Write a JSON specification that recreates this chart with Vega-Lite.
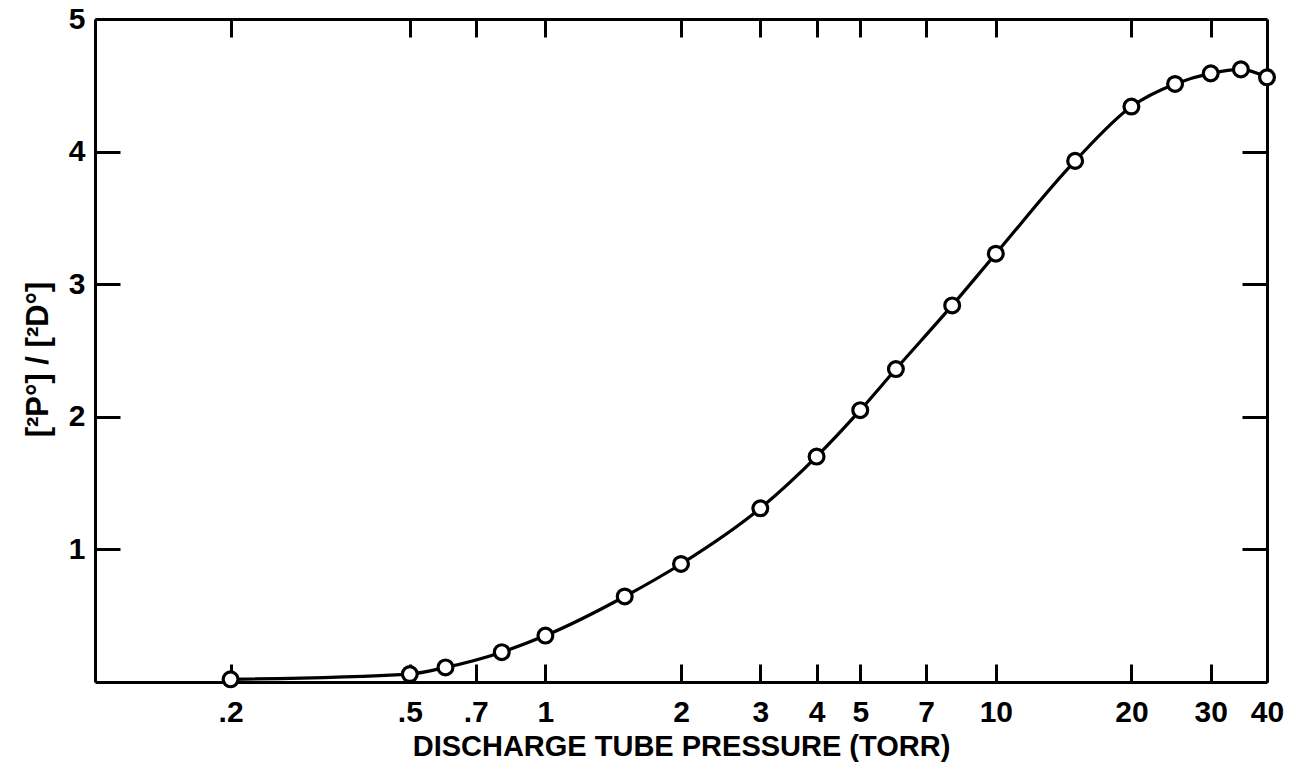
{
  "$schema": "https://vega.github.io/schema/vega-lite/v6.json",
  "width": 1172,
  "height": 663,
  "autosize": "none",
  "padding": {"left": 95, "top": 19, "right": 37, "bottom": 88},
  "background": "white",
  "config": {
    "view": {"stroke": null},
    "font": "Liberation Sans",
    "axis": {
      "domainColor": "black",
      "domainWidth": 3,
      "tickColor": "black",
      "tickWidth": 3,
      "grid": false,
      "labelColor": "black",
      "labelFont": "Liberation Sans",
      "labelFontSize": 30,
      "labelFontWeight": "bold",
      "titleColor": "black",
      "titleFont": "Liberation Sans",
      "titleFontSize": 29,
      "titleFontWeight": "bold"
    }
  },
  "data": {
    "values": [
      {"pressure": 0.2, "ratio": 0.02},
      {"pressure": 0.5, "ratio": 0.06},
      {"pressure": 0.6, "ratio": 0.11},
      {"pressure": 0.8, "ratio": 0.225},
      {"pressure": 1.0, "ratio": 0.35},
      {"pressure": 1.5, "ratio": 0.645},
      {"pressure": 2.0, "ratio": 0.89},
      {"pressure": 3.0, "ratio": 1.31},
      {"pressure": 4.0, "ratio": 1.70},
      {"pressure": 5.0, "ratio": 2.05},
      {"pressure": 6.0, "ratio": 2.36},
      {"pressure": 8.0, "ratio": 2.84},
      {"pressure": 10.0, "ratio": 3.23},
      {"pressure": 15.0, "ratio": 3.93},
      {"pressure": 20.0, "ratio": 4.34},
      {"pressure": 25.0, "ratio": 4.51},
      {"pressure": 30.0, "ratio": 4.59},
      {"pressure": 35.0, "ratio": 4.62},
      {"pressure": 40.0, "ratio": 4.56}
    ]
  },
  "layer": [
    {
      "mark": {"type": "line", "color": "black", "strokeWidth": 3.2, "interpolate": "monotone"},
      "encoding": {
        "x": {
          "field": "pressure", "type": "quantitative",
          "scale": {"type": "log", "domain": [0.1, 40], "nice": false},
          "axis": {
            "orient": "bottom",
            "title": "DISCHARGE TUBE PRESSURE (TORR)",
            "titlePadding": 5,
            "values": [0.2, 0.5, 0.7, 1, 2, 3, 4, 5, 7, 10, 20, 30, 40],
            "labelExpr": "datum.value < 1 ? '.' + round(datum.value * 10) : format(datum.value, 'd')",
            "tickSize": -18,
            "labelPadding": 33,
            "labelFlush": false,
            "labelOverlap": false
          }
        },
        "y": {
          "field": "ratio", "type": "quantitative",
          "scale": {"domain": [0, 5], "nice": false},
          "axis": {
            "orient": "left",
            "title": "[²P°]  /  [²D°]",
            "titleFontSize": 31,
            "titlePadding": 14,
            "titleY": 340,
            "values": [1, 2, 3, 4, 5],
            "format": "d",
            "tickSize": -25,
            "labelPadding": 35,
            "labelFlush": false
          }
        }
      }
    },
    {
      "mark": {"type": "point", "shape": "circle", "filled": true, "fill": "white", "stroke": "black", "strokeWidth": 3.2, "size": 220, "opacity": 1},
      "encoding": {
        "x": {
          "field": "pressure", "type": "quantitative",
          "scale": {"type": "log", "domain": [0.1, 40], "nice": false},
          "axis": {
            "orient": "top",
            "title": null,
            "labels": false,
            "values": [0.2, 0.5, 0.7, 1, 2, 3, 4, 5, 7, 10, 20, 30],
            "tickSize": -18
          }
        },
        "y": {
          "field": "ratio", "type": "quantitative",
          "scale": {"domain": [0, 5], "nice": false},
          "axis": {
            "orient": "right",
            "title": null,
            "labels": false,
            "values": [1, 2, 3, 4],
            "tickSize": -25
          }
        }
      }
    }
  ],
  "resolve": {"axis": {"x": "independent", "y": "independent"}}
}
